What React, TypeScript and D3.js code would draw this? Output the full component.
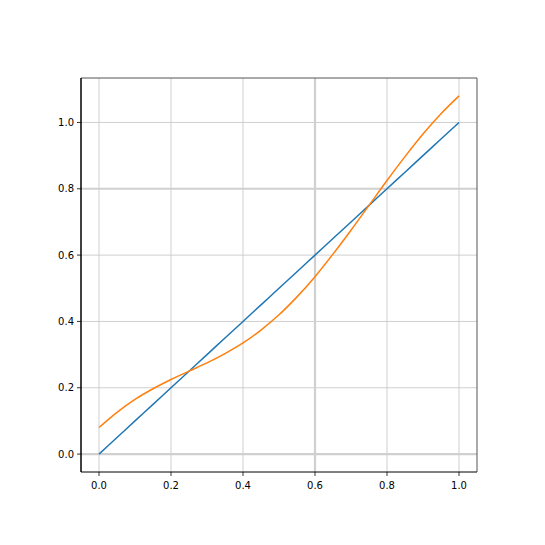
import React from 'react';
import * as d3 from 'd3';

// values
const xs = [0, 0.05, 0.1, 0.15, 0.2, 0.25, 0.3, 0.35, 0.4, 0.45, 0.5, 0.55, 0.6, 0.65, 0.7, 0.75, 0.8, 0.85, 0.9, 0.95, 1.0];
const blueValues = [0, 0.05, 0.1, 0.15, 0.2, 0.25, 0.3, 0.35, 0.4, 0.45, 0.5, 0.55, 0.6, 0.65, 0.7, 0.75, 0.8, 0.85, 0.9, 0.95, 1.0];
const orangeValues = [0.08, 0.126, 0.165, 0.197, 0.225, 0.25, 0.275, 0.303, 0.335, 0.374, 0.42, 0.474, 0.535, 0.603, 0.675, 0.75, 0.825, 0.897, 0.965, 1.026, 1.08];
const xTicks = [0, 0.2, 0.4, 0.6, 0.8, 1.0];
const yTicks = [0, 0.2, 0.4, 0.6, 0.8, 1.0];
// grid lines drawn heavier in the reference
const boldX = [0.6];
const boldY = [0, 0.8];

const W = 545;
const H = 545;
const left = 81;
const right = 477;
const top = 78;
const bottom = 472;

const App = () => {
  const x = d3.scaleLinear().domain([-0.05, 1.05]).range([left, right]);
  const y = d3.scaleLinear().domain([-0.054, 1.134]).range([bottom, top]);

  const line = (vals: number[]) =>
    d3.line<number>()
      .x((_, i) => x(xs[i]))
      .y(d => y(d))
      .curve(d3.curveCatmullRom)(vals) || '';

  const fmt = d3.format('.1f');

  return (
    <svg width={W} height={H} style={{ position: 'absolute', left: 0, top: 0, fontFamily: 'DejaVu Sans' }}>
      <rect width={W} height={H} fill="#fff" />
      {/* grid */}
      {xTicks.map(t => (
        <line key={'gx' + t} x1={x(t)} x2={x(t)} y1={top} y2={bottom}
          stroke={boldX.includes(t) ? '#d0d0d0' : '#cfcfcf'} strokeWidth={boldX.includes(t) ? 2.2 : 1} />
      ))}
      {yTicks.map(t => (
        <line key={'gy' + t} x1={left} x2={right} y1={y(t)} y2={y(t)}
          stroke={boldY.includes(t) ? '#d0d0d0' : '#cfcfcf'} strokeWidth={boldY.includes(t) ? 2.2 : 1} />
      ))}
      {/* series */}
      <path d={line(blueValues)} fill="none" stroke="#1f77b4" strokeWidth={1.5} />
      <path d={line(orangeValues)} fill="none" stroke="#ff7f0e" strokeWidth={1.5} />
      {/* spines */}
      <line x1={left} x2={right} y1={top} y2={top} stroke="#555" strokeWidth={1} />
      <line x1={right} x2={right} y1={top} y2={bottom} stroke="#555" strokeWidth={1} />
      <line x1={left} x2={right} y1={bottom} y2={bottom} stroke="#000" strokeWidth={1} />
      <line x1={left} x2={left} y1={top} y2={bottom} stroke="#000" strokeWidth={1.5} />
      {/* ticks */}
      {xTicks.map(t => (
        <g key={'tx' + t}>
          <line x1={x(t)} x2={x(t)} y1={bottom} y2={bottom + 4} stroke="#000" strokeWidth={0.8} />
          <text x={x(t)} y={bottom + 17} fontSize={10} textAnchor="middle" fill="#000">{fmt(t)}</text>
        </g>
      ))}
      {yTicks.map(t => (
        <g key={'ty' + t}>
          <line x1={left - 4} x2={left} y1={y(t)} y2={y(t)} stroke="#000" strokeWidth={0.8} />
          <text x={left - 7} y={y(t) + 3.5} fontSize={10} textAnchor="end" fill="#000">{fmt(t)}</text>
        </g>
      ))}
    </svg>
  );
};

export default App;
